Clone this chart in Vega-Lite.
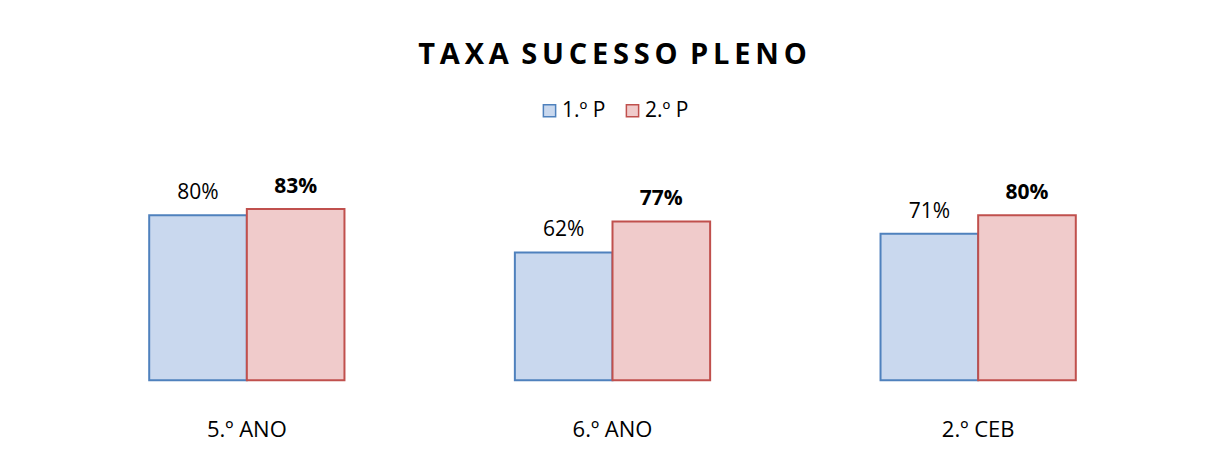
{
  "$schema": "https://vega.github.io/schema/vega-lite/v6.json",
  "width": 1097,
  "height": 227,
  "autosize": {"type": "none"},
  "padding": {"left": 64, "top": 174, "right": 44, "bottom": 53},
  "background": "white",
  "title": {
    "text": "T\u2009A\u2009X\u2009A\u2009 S\u2009U\u2009C\u2009E\u2009S\u2009S\u2009O\u2009 P\u2009L\u2009E\u2009N\u2009O",
    "anchor": "middle",
    "font": "Open Sans",
    "fontSize": 29,
    "fontWeight": "bold",
    "color": "#000000",
    "offset": 30
  },
  "data": {
    "values": [
      {"cat": "5.º ANO", "period": "1.º P", "v": 0.80},
      {"cat": "5.º ANO", "period": "2.º P", "v": 0.83},
      {"cat": "6.º ANO", "period": "1.º P", "v": 0.62},
      {"cat": "6.º ANO", "period": "2.º P", "v": 0.77},
      {"cat": "2.º CEB", "period": "1.º P", "v": 0.71},
      {"cat": "2.º CEB", "period": "2.º P", "v": 0.80}
    ]
  },
  "layer": [
    {
      "data": {"values": [{"floor": "floor"}]},
      "mark": {"type": "rect", "color": "#BFBFBF"},
      "encoding": {
        "x": {"value": {"expr": "width*0.06"}},
        "x2": {"value": {"expr": "width*0.94"}},
        "y": {"datum": 0.184, "type": "quantitative"},
        "y2": {"value": "height"}
      }
    },
    {
      "mark": {"type": "bar", "strokeWidth": 2},
      "encoding": {
        "xOffset": {"field": "period", "type": "nominal", "sort": ["1.º P", "2.º P"], "scale": {"paddingInner": 0, "paddingOuter": 0}},
        "fill": {
          "field": "period", "type": "nominal",
          "scale": {"domain": ["1.º P", "2.º P"], "range": ["#C9D8EE", "#F0CBCB"]},
          "legend": {"title": null, "orient": "none", "legendX": 475, "legendY": -74, "direction": "horizontal", "symbolType": "square", "symbolSize": 150, "symbolStrokeWidth": 1.5, "labelFontSize": 21, "labelFont": "Open Sans", "labelColor": "#000000", "columnPadding": 16, "padding": 0, "labelOffset": 2}
        },
        "stroke": {
          "field": "period", "type": "nominal",
          "scale": {"domain": ["1.º P", "2.º P"], "range": ["#4F81BD", "#C0504D"]},
          "legend": {"title": null, "orient": "none", "legendX": 475, "legendY": -74, "direction": "horizontal", "symbolType": "square", "symbolSize": 150, "symbolStrokeWidth": 1.5, "labelFontSize": 21, "labelFont": "Open Sans", "labelColor": "#000000", "columnPadding": 16, "padding": 0, "labelOffset": 2}
        }
      }
    },
    {
      "transform": [{"filter": "datum.period === '1.º P'"}],
      "mark": {"type": "text", "font": "Open Sans", "fontSize": 21, "color": "#000000", "baseline": "alphabetic", "dy": -16},
      "encoding": {
        "xOffset": {"field": "period", "type": "nominal", "sort": ["1.º P", "2.º P"]},
        "text": {"field": "v", "type": "quantitative", "format": ".0%"}
      }
    },
    {
      "transform": [{"filter": "datum.period === '2.º P'"}],
      "mark": {"type": "text", "font": "Open Sans", "fontSize": 21, "fontWeight": "bold", "color": "#000000", "baseline": "alphabetic", "dy": -16},
      "encoding": {
        "xOffset": {"field": "period", "type": "nominal", "sort": ["1.º P", "2.º P"]},
        "text": {"field": "v", "type": "quantitative", "format": ".0%"}
      }
    }
  ],
  "encoding": {
    "x": {
      "field": "cat", "type": "nominal",
      "sort": ["5.º ANO", "6.º ANO", "2.º CEB"],
      "scale": {"domain": ["5.º ANO", "6.º ANO", "2.º CEB"], "paddingInner": 0.466, "paddingOuter": 0.233},
      "axis": {"title": null, "domain": false, "ticks": false, "labelAngle": 0, "labelFont": "Open Sans", "labelFontSize": 22, "labelColor": "#000000", "labelPadding": 18, "grid": false}
    },
    "y": {
      "field": "v", "type": "quantitative",
      "scale": {"domain": [-0.1, 1.0], "nice": false, "zero": false},
      "axis": null
    }
  },
  "config": {
    "view": {"stroke": null}
  }
}
